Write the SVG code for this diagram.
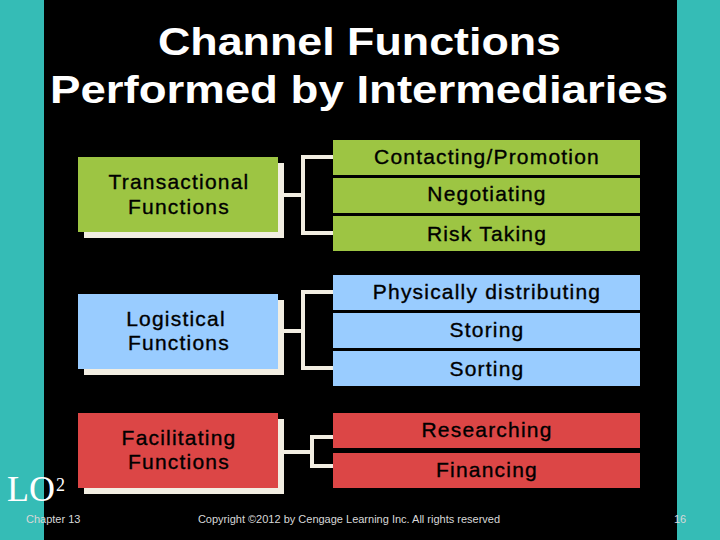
<svg xmlns="http://www.w3.org/2000/svg" width="720" height="540" viewBox="0 0 720 540">
<style>
.t{font-family:"Liberation Sans",Arial,sans-serif;fill:#000;stroke:#000;stroke-width:0.35px;text-anchor:middle;font-size:21px;letter-spacing:1.2px}
.sh{fill:#f2eee2}
.g{fill:#9dc543}
.b{fill:#99ccff}
.r{fill:#dc4646}
.c{fill:none;stroke:#f2eee2;stroke-width:4}
.ttl{font-family:"Liberation Sans",Arial,sans-serif;font-weight:bold;font-size:39px;fill:#fff}
.ft{font-family:"Liberation Sans",Arial,sans-serif;font-size:11px;fill:#d8d8d8}
</style>
<rect x="0" y="0" width="720" height="540" fill="#000"/>
<rect x="0" y="0" width="44" height="540" fill="#35bcb6"/>
<rect x="677" y="0" width="43" height="540" fill="#35bcb6"/>
<text class="ttl" x="158" y="55" textLength="403" lengthAdjust="spacingAndGlyphs">Channel Functions</text>
<text class="ttl" x="50" y="103" textLength="618" lengthAdjust="spacingAndGlyphs">Performed by Intermediaries</text>
<g id="connectors">
<path class="c" d="M283 195H303M333 157H303V233H333"/>
<path class="c" d="M283 331H303M333 292H303V368H333"/>
<path class="c" d="M283 452H312M333 437H312V466H333"/>
</g>
<g id="transactional">
<rect class="sh" x="84" y="163" width="200" height="75"/>
<rect class="g" x="78" y="157" width="200" height="75"/>
<text class="t" x="179" y="189">Transactional</text>
<text class="t" x="179" y="214">Functions</text>
</g>
<g id="contacting"><rect class="g" x="333" y="140" width="307" height="35"/><text class="t" x="487" y="164">Contacting/Promotion</text></g>
<g id="negotiating"><rect class="g" x="333" y="178" width="307" height="35"/><text class="t" x="487" y="201">Negotiating</text></g>
<g id="risk"><rect class="g" x="333" y="216" width="307" height="35"/><text class="t" x="487" y="241">Risk Taking</text></g>
<g id="logistical">
<rect class="sh" x="84" y="300" width="200" height="75"/>
<rect class="b" x="78" y="294" width="200" height="75"/>
<text class="t" x="176" y="326">Logistical</text>
<text class="t" x="179" y="350">Functions</text>
</g>
<g id="physically"><rect class="b" x="333" y="275" width="307" height="35"/><text class="t" x="487" y="299">Physically distributing</text></g>
<g id="storing"><rect class="b" x="333" y="313" width="307" height="35"/><text class="t" x="487" y="337">Storing</text></g>
<g id="sorting"><rect class="b" x="333" y="351" width="307" height="35"/><text class="t" x="487" y="376">Sorting</text></g>
<g id="facilitating">
<rect class="sh" x="84" y="419" width="200" height="75"/>
<rect class="r" x="78" y="413" width="200" height="75"/>
<text class="t" x="179" y="445">Facilitating</text>
<text class="t" x="179" y="469">Functions</text>
</g>
<g id="researching"><rect class="r" x="333" y="413" width="307" height="35"/><text class="t" x="487" y="437">Researching</text></g>
<g id="financing"><rect class="r" x="333" y="453" width="307" height="35"/><text class="t" x="487" y="477">Financing</text></g>
<text x="7" y="501" font-family="Liberation Serif,Times New Roman,serif" font-size="36" fill="#fff">LO</text>
<text x="56" y="491" font-family="Liberation Serif,Times New Roman,serif" font-size="18" fill="#fff">2</text>
<text class="ft" x="26" y="523">Chapter 13</text>
<text class="ft" x="349" y="523" text-anchor="middle">Copyright ©2012 by Cengage Learning Inc.  All rights reserved</text>
<text class="ft" x="674" y="523">16</text>
</svg>
